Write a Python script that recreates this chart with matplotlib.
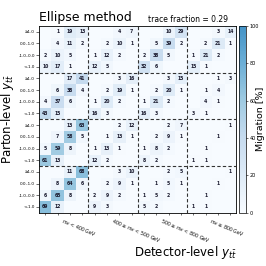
import numpy as np
import matplotlib
matplotlib.use("Agg")
import matplotlib.pyplot as plt
import matplotlib.transforms as mtrans
from matplotlib.colors import LinearSegmentedColormap

# Rows from top (parton block 4 ... block 1), within block: >=1.0, 0-1, -1-0, <-1
# Columns: detector block1..4, each with <-1, -1-0, 0-1, >=1
block_top = [
    [0, 1, 19, 13, 0, 0, 4, 7, 0, 0, 10, 29, 0, 0, 3, 14],
    [0, 4, 11, 2, 0, 2, 10, 1, 0, 5, 39, 2, 0, 2, 21, 1],
    [2, 10, 5, 0, 1, 12, 2, 0, 2, 38, 5, 0, 1, 21, 2, 0],
    [10, 17, 1, 0, 12, 5, 0, 0, 32, 6, 0, 0, 15, 1, 0, 0],
]
block_2 = [
    [0, 0, 17, 41, 0, 0, 3, 16, 0, 0, 3, 15, 0, 0, 1, 3],
    [0, 6, 38, 4, 0, 2, 19, 1, 0, 2, 20, 1, 0, 1, 4, 0],
    [4, 37, 6, 0, 1, 20, 2, 0, 1, 21, 2, 0, 0, 4, 1, 0],
    [43, 15, 0, 0, 16, 3, 0, 0, 16, 3, 0, 0, 3, 1, 0, 0],
]
block_3 = [
    [0, 0, 13, 63, 0, 0, 2, 12, 0, 0, 2, 7, 0, 0, 0, 1],
    [0, 7, 58, 5, 0, 1, 13, 1, 0, 2, 9, 1, 0, 0, 1, 0],
    [5, 59, 8, 0, 1, 13, 1, 0, 1, 8, 2, 0, 0, 1, 0, 0],
    [61, 13, 0, 0, 12, 2, 0, 0, 8, 2, 0, 0, 1, 1, 0, 0],
]
block_bottom = [
    [0, 0, 11, 68, 0, 0, 3, 10, 0, 0, 2, 5, 0, 0, 0, 1],
    [0, 8, 64, 6, 0, 2, 9, 1, 0, 1, 5, 1, 0, 0, 1, 0],
    [6, 65, 8, 0, 2, 9, 2, 0, 1, 5, 2, 0, 0, 1, 0, 0],
    [69, 12, 0, 0, 9, 3, 0, 0, 5, 2, 0, 0, 1, 1, 0, 0],
]
y_bin_labels = ["≥1.0", "0.0–1.0", "-1.0–0.0", "<-1.0"]
mass_labels = [r"$m_{t\bar{t}}$ < 400 GeV",
               r"400 ≤ $m_{t\bar{t}}$ < 500 GeV",
               r"500 ≤ $m_{t\bar{t}}$ < 800 GeV",
               r"$m_{t\bar{t}}$ ≥ 800 GeV"]
trace_fraction = 0.29

M = np.array(block_top + block_2 + block_3 + block_bottom, dtype=float)
n = M.shape[0]

base = plt.get_cmap("Blues")
cmap = LinearSegmentedColormap.from_list("bl", base(np.linspace(0, 0.62, 256)))

fig = plt.figure(figsize=(2.66, 2.66), dpi=100)
ax = fig.add_axes([0.147, 0.2, 0.742, 0.703])
cax = fig.add_axes([0.897, 0.2, 0.027, 0.703])

im = ax.imshow(M, cmap=cmap, vmin=0, vmax=100, aspect="auto",
               extent=(0, n, n, 0))
for i in range(n):
    for j in range(n):
        v = M[i, j]
        if v >= 1:
            ax.text(j + 0.5, i + 0.5, f"{int(v)}", ha="center", va="center",
                    fontsize=3.3, fontweight="bold", color="#1a1a2e")

for k in (4, 8, 12):
    ax.axhline(k, color="#333333", ls=(0, (3, 2)), lw=0.8)
    ax.axvline(k, color="#333333", ls=(0, (3, 2)), lw=0.8)

ax.set_xlim(0, n)
ax.set_ylim(n, 0)
ax.set_yticks(np.arange(n) + 0.5)
ax.set_yticklabels(y_bin_labels * 4, fontsize=3)
ax.set_xticks(np.arange(n) + 0.5, minor=True)
ax.set_xticks([2, 6, 10, 14])
ax.set_xticklabels(mass_labels, fontsize=3.4, rotation=-23, ha="left",
                   rotation_mode="anchor")
off = mtrans.ScaledTranslation(-8 / 100, 0, fig.dpi_scale_trans)
for lab in ax.get_xticklabels():
    lab.set_transform(lab.get_transform() + off)
ax.tick_params(axis="both", which="major", length=2, width=0.4, pad=1)
ax.tick_params(axis="x", which="major", length=0, pad=3)
ax.tick_params(axis="x", which="minor", length=1.5, width=0.4)
for s in ax.spines.values():
    s.set_linewidth(0.6)

ax.set_ylabel(r"Parton-level $y_{t\bar{t}}$", fontsize=8.5, labelpad=2)
ax.set_xlabel(r"Detector-level $y_{t\bar{t}}$", fontsize=8.5, ha="right")
ax.xaxis.set_label_coords(1.0, -0.165)
ax.text(0.0, 1.01, "Ellipse method", transform=ax.transAxes, fontsize=9,
        ha="left", va="bottom")
ax.text(0.955, 1.01, f"trace fraction = {trace_fraction:.2f}",
        transform=ax.transAxes, fontsize=5.5, ha="right", va="bottom")

cb = fig.colorbar(im, cax=cax)
cb.set_ticks([0, 20, 40, 60, 80, 100])
cb.ax.tick_params(labelsize=3.5, length=1.5, width=0.4, pad=1)
cb.outline.set_linewidth(0.5)
cb.set_label("Migration [%]", fontsize=6.8)
cb.ax.yaxis.set_label_coords(2.4, 0.5)

fig.savefig("out.png", dpi=100)
